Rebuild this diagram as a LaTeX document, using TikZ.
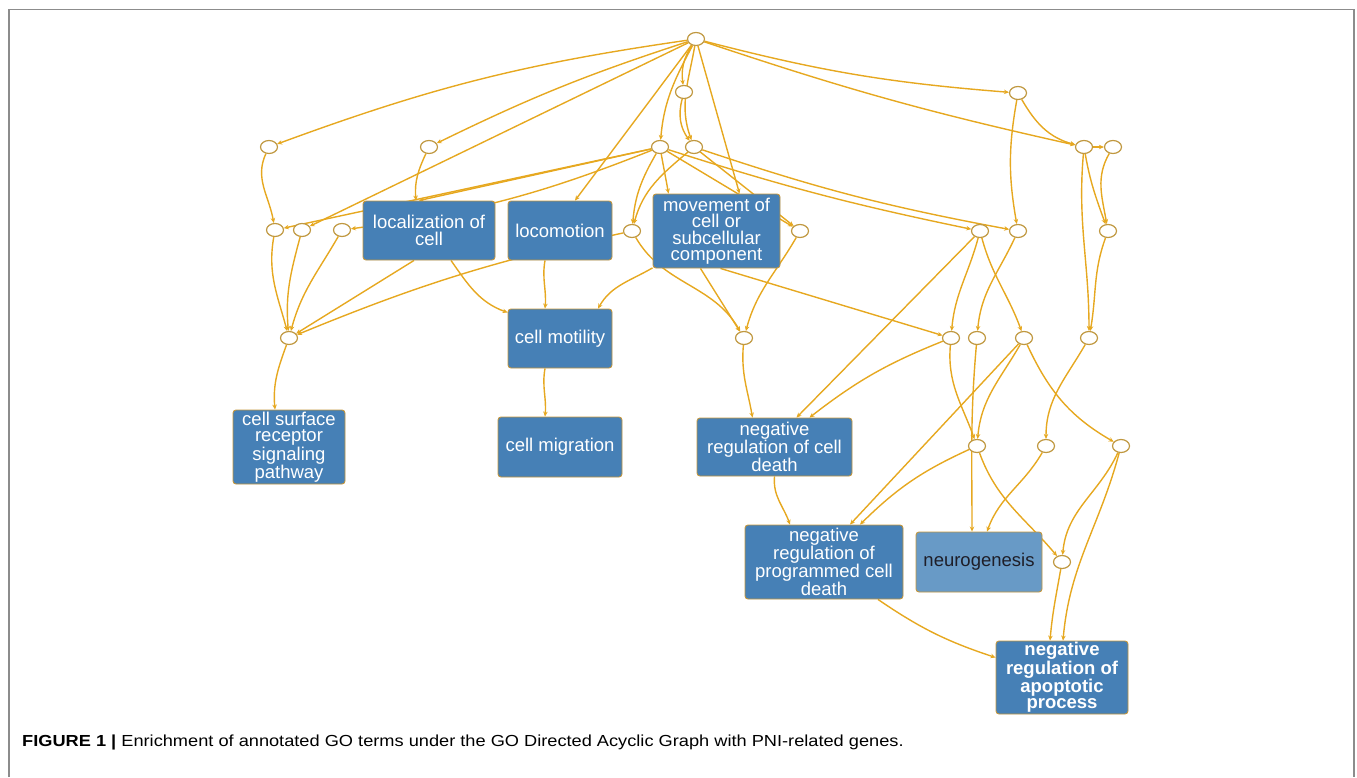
\documentclass[tikz,border=0pt]{standalone}
\usepackage{fontspec}
\setmainfont{Liberation Sans}
\usetikzlibrary{shapes.geometric,arrows.meta}
\definecolor{edgecol}{RGB}{230,168,32}
\definecolor{dotcol}{RGB}{192,152,64}
\definecolor{boxfill}{RGB}{70,128,182}
\definecolor{neufill}{RGB}{104,154,198}
\definecolor{boxline}{RGB}{196,150,60}
\definecolor{framecol}{RGB}{140,140,140}
\newcommand\bxf{\fontsize{18.5}{16.5}\selectfont}
\pgfdeclarelayer{bg}
\pgfsetlayers{bg,main}
\tikzset{
  edge/.style={draw=edgecol, line width=1.4pt, -{Stealth[length=5pt,width=4.5pt]}},
  dot/.style={ellipse, draw=dotcol, fill=white, line width=1.2pt, minimum width=17pt, minimum height=13pt, inner sep=0pt},
  gobox/.style={rectangle, rounded corners=3pt, draw=boxline, fill=boxfill, text=white, line width=0.9pt, align=center, inner sep=0pt, font=\bxf},
}
\begin{document}
\begin{tikzpicture}[x=1pt,y=1pt]
\useasboundingbox (0,0) rectangle (1357,-777);
\draw[framecol, line width=1.2pt] (9,-777) -- (9,-9.5) -- (1354,-9.5) -- (1354,-777);

% small nodes
\node[dot] (R) at (696,-39) {};
\node[dot] (A1) at (684,-92) {};
\node[dot] (B) at (1018,-93) {};
\node[dot] (C1) at (269,-147) {};
\node[dot] (C2) at (429,-147) {};
\node[dot] (C3) at (660,-147) {};
\node[dot] (C4) at (694,-147) {};
\node[dot] (D1) at (1084,-147) {};
\node[dot] (D2) at (1113,-147) {};
\node[dot] (E1) at (275,-230) {};
\node[dot] (E2) at (302,-230) {};
\node[dot] (E3) at (342,-230) {};
\node[dot] (E4) at (632,-231) {};
\node[dot] (E5) at (800,-231) {};
\node[dot] (E6) at (980,-231) {};
\node[dot] (E7) at (1018,-231) {};
\node[dot] (E8) at (1108,-231) {};
\node[dot] (G) at (289,-338) {};
\node[dot] (F1) at (744,-338) {};
\node[dot] (F2) at (951,-338) {};
\node[dot] (F3) at (977,-338) {};
\node[dot] (F4) at (1024,-338) {};
\node[dot] (F5) at (1089,-338) {};
\node[dot] (H1) at (977,-446) {};
\node[dot] (H2) at (1046,-446) {};
\node[dot] (H3) at (1121,-446) {};
\node[dot] (I) at (1062,-562) {};

% term boxes
\node[gobox, minimum width=132pt, minimum height=59pt] (loc) at (429,-230.5) {localization of\\cell};
\node[gobox, minimum width=104pt, minimum height=59pt] (loco) at (560,-230.5) {locomotion};
\node[gobox, minimum width=127pt, minimum height=74pt] (mov) at (716.5,-231) {movement of\\cell or\\subcellular\\component};
\node[gobox, minimum width=104pt, minimum height=59pt] (mot) at (560,-338.5) {cell motility};
\node[gobox, minimum width=112pt, minimum height=74pt] (csr) at (289,-447) {cell surface\\receptor\\signaling\\pathway};
\node[gobox, minimum width=124pt, minimum height=60pt] (mig) at (560,-447) {cell migration};
\node[gobox, minimum width=155pt, minimum height=58pt] (ncd) at (774.5,-447) {negative\\regulation of cell\\death};
\node[gobox, minimum width=158pt, minimum height=74pt] (npcd) at (824,-562) {negative\\regulation of\\programmed cell\\death};
\node[gobox, fill=neufill, text={rgb,255:red,30;green,30;blue,40}, minimum width=126pt, minimum height=60pt] (neu) at (979,-562) {neurogenesis};
\node[gobox, font=\bxf\bfseries, minimum width=132pt, minimum height=73pt] (nap) at (1062,-677.5) {negative\\regulation of\\apoptotic\\process};

\begin{pgfonlayer}{bg}
% from root
\draw[edge] (R) to[bend right=6] (C1);
\draw[edge] (R) to[bend right=4] (C2);
\draw[edge] (R) to (E2);
\draw[edge] (R) to ([xshift=15pt]loco.north);
\draw[edge] (R) to[bend right=20] (A1);
\draw[edge] (R) to[out=-118,in=85] (C3);
\draw[edge] (R) to[out=-100,in=110] (C4);
\draw[edge] (R) to ([xshift=23pt]mov.north);
\draw[edge] (R) to[bend right=5] (B);
\draw[edge] (R) to[bend right=3] (D1);
\draw[edge] (A1) to[bend right=25] (C4);
% second level
\draw[edge] (C1) to[out=-115,in=100] (E1);
\draw[edge] (C2) to[out=-115,in=95] ([xshift=-13pt]loc.north);
\draw[edge] (C3) to (E1);
\draw[edge] (C3) to[bend left=7] (E3);
\draw[edge] (C3) to ([xshift=-10pt]loc.north);
\draw[edge] (C3) to[out=-120,in=85] (E4);
\draw[edge] (C3) to[out=-80,in=100] ([xshift=-48pt]mov.north);
\draw[edge] (C3) to (E5);
\draw[edge] (C3) to[bend right=3] (E6);
\draw[edge] (C4) to[bend right=4] (E7);
\draw[edge] (C4) to[out=-140,in=75] (E4);
\draw[edge] (C4) to (E5);
\draw[edge] (B) to[out=-100,in=100] (E7);
\draw[edge] (B) to[out=-60,in=165] (D1);
\draw[edge] (D1) to (D2);
\draw[edge] (D1) to[out=-80,in=110] (E8);
\draw[edge] (D1) to[out=-95,in=90] (F5);
\draw[edge] (D2) to[out=-120,in=100] (E8);
% third level
\draw[edge] (E1) to[out=-100,in=105] (G);
\draw[edge] (E2) to[out=-105,in=95] (G);
\draw[edge] (E3) to[out=-120,in=75] (G);
\draw[edge] (E4) to[bend right=5] (G);
\draw[edge] ([xshift=-15pt]loc.south) to (G);
\draw[edge] ([xshift=22pt]loc.south) to[out=-55,in=160] ([yshift=26pt]mot.west);
\draw[edge] ([xshift=-15pt]loco.south) to[out=-100,in=85] ([xshift=-15pt]mot.north);
\draw[edge] (mov) to[out=-150,in=60] ([xshift=38pt]mot.north);
\draw[edge] ([xshift=-16pt]mov.south) to (F1);
\draw[edge] ([xshift=4pt]mov.south) to (F2);
\draw[edge] (E4) to[out=-60,in=120] (F1);
\draw[edge] (E5) to[out=-120,in=75] (F1);
\draw[edge] (E6) to[out=-105,in=85] (F2);
\draw[edge] (E6) to[out=-75,in=110] (F4);
\draw[edge] (E6) to ([xshift=22pt]ncd.north);
\draw[edge] (E7) to[out=-115,in=85] (F3);
\draw[edge] (E8) to[out=-110,in=80] (F5);
% lower levels
\draw[edge] (G) to[out=-110,in=95] ([xshift=-14pt]csr.north);
\draw[edge] ([xshift=-15pt]mot.south) to[out=-100,in=85] ([xshift=-15pt]mig.north);
\draw[edge] (F1) to[out=-95,in=100] ([xshift=-22pt]ncd.north);
\draw[edge] (F2) to[bend right=8] ([xshift=35pt]ncd.north);
\draw[edge] (F2) to[out=-95,in=110] (H1);
\draw[edge] (F3) to[out=-95,in=90] ([xshift=-7pt]neu.north);
\draw[edge] (F4) to[out=-120,in=85] (H1);
\draw[edge] (F4) to ([xshift=26pt]npcd.north);
\draw[edge] (F4) to[out=-65,in=150] (H3);
\draw[edge] (F5) to[out=-120,in=90] (H2);
\draw[edge] (ncd.south) to[out=-95,in=110] ([xshift=-34pt]npcd.north);
\draw[edge] (H1) to[bend right=10] ([xshift=36pt]npcd.north);
\draw[edge] (H1) to[out=-70,in=130] (I);
\draw[edge] (H2) to[out=-120,in=70] ([xshift=8pt]neu.north);
\draw[edge] (H3) to[out=-115,in=85] (I);
\draw[edge] (H3) to[out=-105,in=85] ([xshift=1pt]nap.north);
\draw[edge] (I) to[out=-100,in=85] ([xshift=-12pt]nap.north);
\draw[edge] ([xshift=54pt]npcd.south) to[bend right=8] ([yshift=20pt]nap.west);
\end{pgfonlayer}

% caption
\node[anchor=base west, inner sep=0pt, font=\fontsize{16}{18}\selectfont] (cap) at (22,-746)
  {\scalebox{1.138}[1]{\textbf{FIGURE 1 |} Enrichment of annotated GO terms under the GO Directed Acyclic Graph with PNI-related genes.}};
\end{tikzpicture}
\end{document}
